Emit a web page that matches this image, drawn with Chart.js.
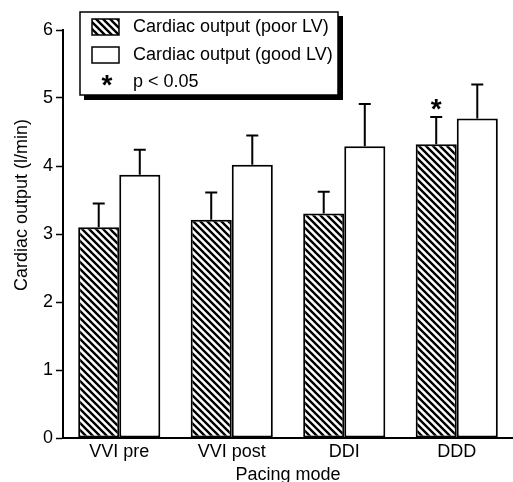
<!DOCTYPE html>
<html lang="en">
<head>
    <meta charset="UTF-8">
    <title>Cardiac output by pacing mode</title>
    <script src="https://cdn.jsdelivr.net/npm/chart.js"></script>
    <style>
        body {
            margin: 0;
            background: #fff;
            overflow: hidden;
        }
        canvas { display: block; }
    </style>
</head>
<body>
    <canvas id="coChart" width="513" height="482"></canvas>

    <script>
        // data
        const modes = ['VVI pre', 'VVI post', 'DDI', 'DDD'];
        const poorLV = [3.1, 3.21, 3.3, 4.32];
        const goodLV = [3.87, 4.02, 4.29, 4.7];
        const poorLVsd = [0.35, 0.4, 0.32, 0.4];
        const goodLVsd = [0.37, 0.43, 0.62, 0.5];
        const poorSig = [false, false, false, true];
        const yTicks = [0, 1, 2, 3, 4, 5, 6];

        const seriesNames = ['Cardiac output (poor LV)', 'Cardiac output (good LV)'];
        const sigLabel = 'p < 0.05';
        const yTitle = 'Cardiac output (l/min)';
        const xTitle = 'Pacing mode';

        const FONT = "'Liberation Sans', Arial, sans-serif";

        const canvas = document.getElementById('coChart');
        const ctx = canvas.getContext('2d');

        // diagonal hatch "\\\\" on white
        function makeHatch() {
            const s = 7;
            const c = document.createElement('canvas');
            c.width = s;
            c.height = s;
            const g = c.getContext('2d');
            g.fillStyle = '#fff';
            g.fillRect(0, 0, s, s);
            g.strokeStyle = '#000';
            g.lineWidth = 2.4;
            g.beginPath();
            g.moveTo(-1, -1); g.lineTo(s + 1, s + 1);
            g.moveTo(-1, s - 1); g.lineTo(1, s + 1);
            g.moveTo(s - 1, -1); g.lineTo(s + 1, 1);
            g.stroke();
            return ctx.createPattern(c, 'repeat');
        }
        const hatch = makeHatch();

        // error bars (upper only) + significance asterisk
        const errorBars = {
            id: 'errorBars',
            afterDatasetsDraw(chart) {
                const c = chart.ctx;
                const y = chart.scales.y;
                const sds = [poorLVsd, goodLVsd];
                const vals = [poorLV, goodLV];
                c.save();
                c.strokeStyle = '#000';
                c.lineWidth = 2;
                chart.data.datasets.forEach((ds, di) => {
                    const meta = chart.getDatasetMeta(di);
                    meta.data.forEach((bar, i) => {
                        const top = y.getPixelForValue(vals[di][i] + sds[di][i]);
                        c.beginPath();
                        c.moveTo(bar.x, bar.y);
                        c.lineTo(bar.x, top);
                        c.moveTo(bar.x - 6, top);
                        c.lineTo(bar.x + 6, top);
                        c.stroke();
                        if (di === 0 && poorSig[i]) {
                            c.fillStyle = '#000';
                            c.font = 'bold 28px ' + FONT;
                            c.textAlign = 'center';
                            c.textBaseline = 'middle';
                            c.fillText('*', bar.x, top - 7);
                        }
                    });
                });
                c.restore();
            }
        };

        // boxed legend with drop shadow, and the y title
        const boxLegend = {
            id: 'boxLegend',
            afterDraw(chart) {
                const c = chart.ctx;
                c.save();
                // shadow
                c.fillStyle = '#000';
                c.fillRect(84, 16, 259, 84);
                c.fillStyle = '#fff';
                c.fillRect(80, 12, 258, 83);
                c.strokeStyle = '#000';
                c.lineWidth = 1.5;
                c.strokeRect(80, 12, 258, 83);

                // swatches
                c.fillStyle = hatch;
                c.fillRect(92, 19, 27, 16);
                c.lineWidth = 1.5;
                c.strokeRect(92, 19, 27, 16);
                c.fillStyle = '#fff';
                c.fillRect(92, 47, 27, 16);
                c.strokeRect(92, 47, 27, 16);

                c.fillStyle = '#000';
                c.font = '18px ' + FONT;
                c.textAlign = 'left';
                c.textBaseline = 'middle';
                c.fillText(seriesNames[0], 133, 27);
                c.fillText(seriesNames[1], 133, 55);
                c.fillText(sigLabel, 133, 82);
                c.font = 'bold 28px ' + FONT;
                c.textAlign = 'center';
                c.fillText('*', 107, 86);

                // y axis title
                c.font = '18px ' + FONT;
                c.translate(22, 205);
                c.rotate(-Math.PI / 2);
                c.textAlign = 'center';
                c.textBaseline = 'middle';
                c.fillText(yTitle, 0, 0);
                c.restore();
            }
        };

        new Chart(canvas, {
            type: 'bar',
            data: {
                labels: modes,
                datasets: [{
                    label: seriesNames[0],
                    data: poorLV,
                    backgroundColor: hatch,
                    borderColor: '#000',
                    borderWidth: 2,
                    borderSkipped: false,
                    categoryPercentage: 0.73,
                    barPercentage: 1
                }, {
                    label: seriesNames[1],
                    data: goodLV,
                    backgroundColor: '#fff',
                    borderColor: '#000',
                    borderWidth: 2,
                    borderSkipped: false,
                    categoryPercentage: 0.73,
                    barPercentage: 1
                }]
            },
            options: {
                responsive: false,
                animation: false,
                layout: { padding: { top: 30, right: 0, bottom: 0, left: 0 } },
                plugins: {
                    legend: { display: false },
                    tooltip: { enabled: false }
                },
                scales: {
                    x: {
                        grid: { display: false, drawTicks: false },
                        border: { display: true, color: '#000', width: 2 },
                        ticks: {
                            color: '#000',
                            font: { family: FONT, size: 18 },
                            padding: 3,
                            maxRotation: 0
                        },
                        title: {
                            display: true,
                            text: xTitle,
                            color: '#000',
                            font: { family: FONT, size: 18 },
                            padding: { top: 0, bottom: -4 }
                        },
                        afterFit(scale) { scale.height = 44; }
                    },
                    y: {
                        min: 0,
                        max: 6,
                        afterBuildTicks(scale) {
                            scale.ticks = yTicks.map(v => ({ value: v }));
                        },
                        grid: {
                            drawOnChartArea: false,
                            drawTicks: true,
                            tickLength: 7,
                            tickWidth: 1.5,
                            tickColor: '#000'
                        },
                        border: { display: true, color: '#000', width: 2 },
                        ticks: {
                            color: '#000',
                            font: { family: FONT, size: 18 },
                            padding: 3
                        },
                        afterFit(scale) { scale.width = 63; }
                    }
                }
            },
            plugins: [errorBars, boxLegend]
        });
    </script>
</body>
</html>
